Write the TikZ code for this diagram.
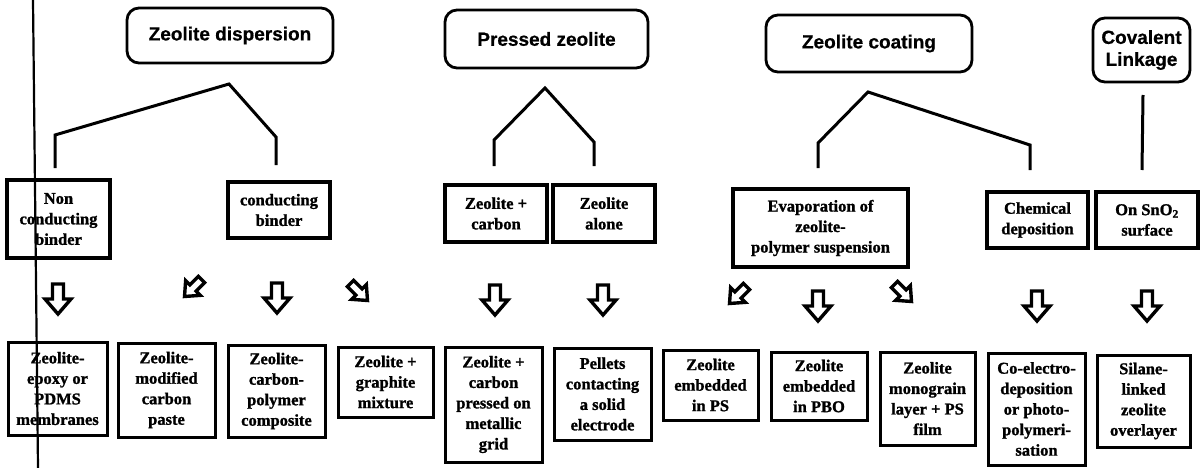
\documentclass[tikz,border=0pt]{standalone}
\usepackage{fontspec}
\setmainfont{Liberation Serif}[BoldFeatures={FakeBold=1.2}]
\newfontfamily\headfont{Liberation Sans}[BoldFeatures={FakeBold=0.6}]
\begin{document}
\begin{tikzpicture}[x=1pt,y=1pt,
  topbox/.style={draw, line width=2.8pt, rounded corners=12pt, inner sep=0pt, align=center,
    font=\headfont\bfseries\fontsize{19}{22}\selectfont},
  midbox/.style={draw, line width=4pt, inner sep=0pt, align=center,
    font=\bfseries\fontsize{16.5}{20.5}\selectfont},
  botbox/.style={draw, line width=3pt, inner sep=0pt, align=center,
    font=\bfseries\fontsize{16.5}{20.5}\selectfont},
  fork/.style={line width=3pt, line join=miter},
  hollowarrow/.pic={\draw[line width=3.4pt, line join=miter]
     (-5.5,15) -- (5.5,15) -- (5.5,0) -- (13,0) -- (0,-15) -- (-13,0) -- (-5.5,0) -- cycle;}
]
\useasboundingbox (0,0) rectangle (1201,-468);
\fill[white] (0,0) rectangle (1201,-468);

% scan edge line
\draw[line width=2.2pt] (33,0) coordinate (edgeA) -- (38,-468) coordinate (edgeB);

% top boxes
\node[topbox, minimum width=206, minimum height=55] (disp) at (230,-35.5) {Zeolite dispersion};
\node[topbox, minimum width=203, minimum height=58] (press) at (546.5,-39) {Pressed zeolite};
\node[topbox, minimum width=206, minimum height=57] (coat) at (869,-43.5) {Zeolite coating};
\node[topbox, minimum width=97, minimum height=64] (cov) at (1141.5,-50) {Covalent\\Linkage};

% middle boxes
\node[midbox, minimum width=103, minimum height=78] (nonc) at (58.5,-219) {Non\\conducting\\binder};
\node[midbox, minimum width=102, minimum height=56] (cond) at (279,-210) {conducting\\binder};
\node[midbox, minimum width=102, minimum height=57] (zc) at (496,-213.5) {Zeolite +\\carbon};
\node[midbox, minimum width=102, minimum height=57] (za) at (604,-213.5) {Zeolite\\alone};
\node[midbox, minimum width=175, minimum height=78] (evap) at (820.5,-228) {Evaporation of\\zeolite-\\polymer suspension};
\node[midbox, minimum width=101, minimum height=56] (chem) at (1037.5,-220) {Chemical\\deposition};
\node[midbox, minimum width=102, minimum height=56] (sno) at (1147,-220) {On SnO\textsubscript{2}\\surface};

% fork connectors
\coordinate (d1) at (55,-168); \coordinate (d2) at (55,-135); \coordinate (d3) at (229,-84);
\coordinate (d4) at (276,-137); \coordinate (d5) at (276,-165);
\draw[fork] (d1) -- (d2) -- (d3) -- (d4) -- (d5);
\coordinate (p1) at (494,-166); \coordinate (p2) at (494,-140); \coordinate (p3) at (545,-88);
\coordinate (p4) at (594,-142); \coordinate (p5) at (594,-166);
\draw[fork] (p1) -- (p2) -- (p3) -- (p4) -- (p5);
\coordinate (c1) at (818,-168); \coordinate (c2) at (818,-143); \coordinate (c3) at (868,-92);
\coordinate (c4) at (1030,-145); \coordinate (c5) at (1030,-170);
\draw[fork] (c1) -- (c2) -- (c3) -- (c4) -- (c5);
\coordinate (v1) at (1143,-95); \coordinate (v2) at (1142,-170);
\draw[fork] (v1) -- (v2);

% hollow arrows
\pic at (58,-299) {hollowarrow};
\pic[rotate=-45, scale=0.8] at (193,-288) {hollowarrow};
\pic at (277,-298) {hollowarrow};
\pic[rotate=45, scale=0.8] at (359,-292) {hollowarrow};
\pic at (495,-300) {hollowarrow};
\pic at (603,-300) {hollowarrow};
\pic[rotate=-45, scale=0.8] at (738,-295) {hollowarrow};
\pic at (818,-306) {hollowarrow};
\pic[rotate=45, scale=0.8] at (903,-293) {hollowarrow};
\pic at (1037,-306) {hollowarrow};
\pic at (1147,-306) {hollowarrow};

% bottom boxes
\node[botbox, minimum width=99, minimum height=93] (b1) at (57.5,-388.5) {Zeolite-\\epoxy or\\PDMS\\membranes};
\node[botbox, minimum width=97, minimum height=94] (b2) at (166.5,-390) {Zeolite-\\modified\\carbon\\paste};
\node[botbox, minimum width=97, minimum height=92] (b3) at (276.5,-391) {Zeolite-\\carbon-\\polymer\\composite};
\node[botbox, minimum width=95, minimum height=70] (b4) at (385.5,-382) {Zeolite +\\graphite\\mixture};
\node[botbox, minimum width=97, minimum height=115] (b5) at (493.5,-404.5) {Zeolite +\\carbon\\pressed on\\metallic\\grid};
\node[botbox, minimum width=97, minimum height=92] (b6) at (602.5,-394) {Pellets\\contacting\\a solid\\electrode};
\node[botbox, minimum width=95, minimum height=70] (b7) at (710.5,-385) {Zeolite\\embedded\\in PS};
\node[botbox, minimum width=96, minimum height=68] (b8) at (819,-386) {Zeolite\\embedded\\in PBO};
\node[botbox, minimum width=95, minimum height=93] (b9) at (927.5,-398.5) {Zeolite\\monograin\\layer + PS\\film};
\node[botbox, minimum width=97, minimum height=112] (b10) at (1036.5,-409) {Co-electro-\\deposition\\or photo-\\polymeri-\\sation};
\node[botbox, minimum width=93, minimum height=92] (b11) at (1143.5,-401) {Silane-\\linked\\zeolite\\overlayer};
\end{tikzpicture}
\end{document}
